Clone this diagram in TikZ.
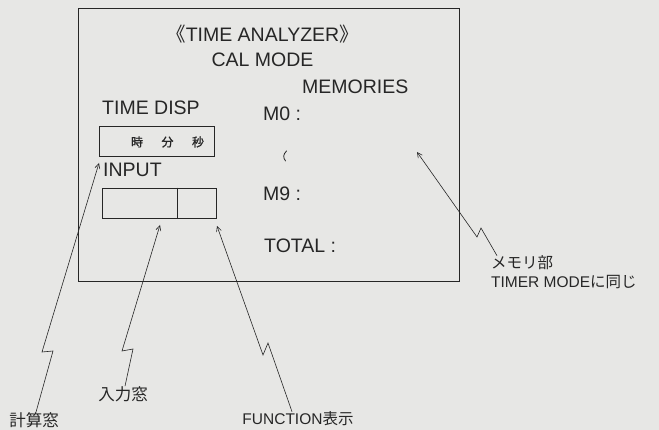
\documentclass[tikz,border=0pt]{standalone}
\usepackage{fontspec}
\setmainfont{Liberation Sans}
\newfontfamily\jp{Noto Sans CJK JP}
\newfontfamily\jpb{Noto Sans CJK JP}[FakeBold=1.2]
\usetikzlibrary{arrows.meta}
\definecolor{paper}{RGB}{231,231,229}
\definecolor{ink}{RGB}{38,38,38}
\begin{document}
\begin{tikzpicture}[x=1pt,y=-1pt,
  frame/.style={draw=ink, line width=0.9pt, inner sep=0pt},
  boxx/.style={draw=ink, line width=0.8pt, inner sep=0pt},
  lbl/.style={text=ink, font=\fontsize{19.5}{22}\selectfont, inner sep=0pt, anchor=base west},
  note/.style={text=ink, font=\fontsize{15.5}{18}\selectfont, inner sep=0pt},
  ptr/.style={draw=ink, line width=0.6pt, -{Straight Barb[length=5pt,width=5pt]}}]
\fill[paper] (0,0) rectangle (659,430);
\useasboundingbox (0,0) rectangle (659,430);
% outer frame
\node[frame, minimum width=381pt, minimum height=273pt] (screen) at (268.5,144.5) {};
% titles
\node[lbl, anchor=base] (title) at (262.5,42) {{\jp 《}TIME ANALYZER{\jp 》}};
\node[lbl, anchor=base] (mode) at (262.5,67) {CAL MODE};
\node[lbl] (mem) at (302,94) {MEMORIES};
\node[lbl] (disp) at (102,115) {TIME DISP};
\node[lbl] (m0) at (263,121) {M0 :};
\node[lbl] (input) at (103,177) {INPUT};
\node[lbl] (m9) at (263,201) {M9 :};
\node[lbl] (total) at (264,253) {TOTAL :};
% squiggle between M0 and M9
\draw[ink, line width=0.8pt, line cap=round] (286.5,151) .. controls (283,154.5) and (283,157.5) .. (285.5,161);
% time display box
\node[boxx, minimum width=115pt, minimum height=30pt] (timebox) at (156.5,141) {};
\node[text=ink, inner sep=0pt, font=\jpb\fontsize{12}{14}\selectfont] (hms) at (167.5,142) {時\hspace{18.5pt}分\hspace{18.5pt}秒};
% input box
\node[boxx, minimum width=114pt, minimum height=30pt] (inbox) at (159,203) {};
\draw[ink, line width=0.8pt] ([xshift=76pt]inbox.north west) -- ([xshift=76pt]inbox.south west);
% labels
\node[note, font=\jp\fontsize{16.5}{18}\selectfont] (keisan) at (34,420) {計算窓};
\node[note, font=\jp\fontsize{16.5}{18}\selectfont] (nyuryoku) at (123,394) {入力窓};
\node[note] (func) at (298,419) {FUNCTION{\jp 表示}};
\node[note, anchor=west] (memo) at (491,263) {{\jp メモリ部}};
\node[note, anchor=west] (same) at (491,282) {TIMER MODE{\jp に同じ}};
% arrow tips
\coordinate (tipK) at (99,163);
\coordinate (tipN) at (160,225);
\coordinate (tipF) at (217,226);
\coordinate (tipM) at (417,152);
% pointers
\draw[ptr] ([xshift=2pt]keisan.north) -- (53,351) -- (42,352) -- (tipK);
\draw[ptr] ([xshift=2pt]nyuryoku.north) -- (133,349) -- (122,351) -- (tipN);
\draw[ptr] ([xshift=-6pt]func.north) -- (268,343) -- (263,355) -- (tipF);
\draw[ptr] ([xshift=6pt]memo.north west) -- (481,228) -- (477,237) -- (tipM);
\end{tikzpicture}
\end{document}
